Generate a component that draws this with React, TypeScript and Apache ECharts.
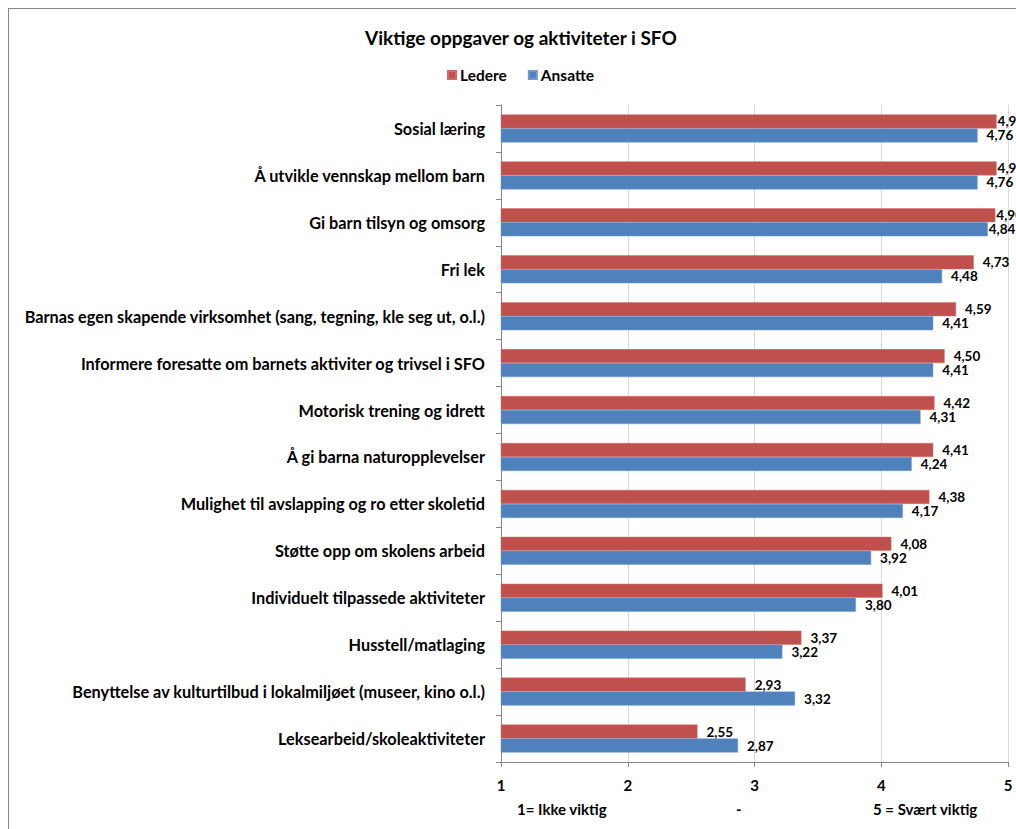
import React, { useEffect, useRef } from "react";
import * as echarts from "echarts";

const categories = [
  "Sosial læring",
  "Å utvikle vennskap mellom barn",
  "Gi barn tilsyn og omsorg",
  "Fri lek",
  "Barnas egen skapende virksomhet (sang, tegning, kle seg ut, o.l.)",
  "Informere foresatte om barnets aktiviter og trivsel i SFO",
  "Motorisk trening og idrett",
  "Å gi barna naturopplevelser",
  "Mulighet til avslapping og ro etter skoletid",
  "Støtte opp om skolens arbeid",
  "Individuelt tilpassede aktiviteter",
  "Husstell/matlaging",
  "Benyttelse av kulturtilbud i lokalmiljøet (museer, kino o.l.)",
  "Leksearbeid/skoleaktiviteter",
];

const ledere = [4.91, 4.91, 4.9, 4.73, 4.59, 4.5, 4.42, 4.41, 4.38, 4.08, 4.01, 3.37, 2.93, 2.55];
const ansatte = [4.76, 4.76, 4.84, 4.48, 4.41, 4.41, 4.31, 4.24, 4.17, 3.92, 3.8, 3.22, 3.32, 2.87];

const xTicks = [1, 2, 3, 4, 5];
const scaleNotes = ["1= Ikke viktig", "-", "5 = Svært viktig"];

const FONT = "Lato, 'Noto Sans', sans-serif";

export default function App() {
  const ref = useRef<HTMLDivElement>(null);
  useEffect(() => {
    if (!ref.current) return;
    const chart = echarts.init(ref.current, undefined, { renderer: "svg" });
    const fmt = (p: any) => Number(p.value).toFixed(2).replace(".", ",");
    const labelStyle = {
      show: true,
      position: "right",
      distance: 9,
      formatter: fmt,
      fontFamily: FONT,
      fontWeight: "bold",
      fontSize: 13.5,
      color: "#000",
    };
    // Excel pushes labels that would overflow the chart area back inwards
    const withClamp = (vals: number[]) =>
      vals.map((v) => (v > 4.8 ? { value: v, label: { distance: 1 } } : v));
    const noteStyle = { fontFamily: FONT, fontWeight: "bold", fontSize: 15, fill: "#000" };
    chart.setOption({
      animation: false,
      backgroundColor: "#fff",
      textStyle: { fontFamily: FONT },
      title: {
        text: "Viktige oppgaver og aktiviteter i SFO",
        left: 356,
        top: 19,
        padding: 0,
        textStyle: { fontFamily: FONT, fontWeight: "bold", fontSize: 19, color: "#000" },
      },
      legend: {
        left: 438,
        top: 58,
        padding: 0,
        icon: "rect",
        itemWidth: 8,
        itemHeight: 8,
        itemGap: 21,
        textStyle: { fontFamily: FONT, fontWeight: "bold", fontSize: 15.5, color: "#000", padding: [0, 0, 0, -1] },
        data: ["Ledere", "Ansatte"],
      },
      grid: { left: 492, top: 96, width: 507, height: 657, containLabel: false },
      xAxis: {
        type: "value",
        min: xTicks[0],
        max: xTicks[xTicks.length - 1],
        interval: 1,
        axisLine: { show: true, lineStyle: { color: "#868686" } },
        axisTick: { show: true, length: 5, lineStyle: { color: "#868686" } },
        axisLabel: {
          margin: 15,
          fontFamily: FONT,
          fontWeight: "bold",
          fontSize: 15,
          color: "#000",
        },
        splitLine: { show: true, lineStyle: { color: "#d9d9d9" } },
      },
      yAxis: {
        type: "category",
        inverse: true,
        data: categories,
        axisLine: { show: true, lineStyle: { color: "#868686" } },
        axisTick: { show: true, length: 5, lineStyle: { color: "#868686" } },
        axisLabel: {
          margin: 16,
          fontFamily: FONT,
          fontWeight: "bold",
          fontSize: 16.3,
          color: "#000",
        },
      },
      series: [
        {
          name: "Ledere",
          type: "bar",
          data: withClamp(ledere),
          barWidth: 14,
          barGap: "0%",
          itemStyle: { color: "#C0504D", borderColor: "#d46a67", borderWidth: 0.5 },
          label: labelStyle,
        },
        {
          name: "Ansatte",
          type: "bar",
          data: withClamp(ansatte),
          barWidth: 14,
          barGap: "0%",
          itemStyle: { color: "#4F81BD", borderColor: "#6f9ad0", borderWidth: 0.5 },
          label: labelStyle,
        },
      ],
      graphic: [
        { type: "text", left: 508, top: 792, style: { text: scaleNotes[0], ...noteStyle } },
        { type: "text", left: 727, top: 792, style: { text: scaleNotes[1], ...noteStyle } },
        { type: "text", left: 864, top: 792, style: { text: scaleNotes[2], ...noteStyle } },
      ],
    });
    return () => chart.dispose();
  }, []);
  return (
    <div
      style={{
        position: "fixed",
        left: 8,
        top: 8,
        right: 0,
        bottom: 0,
        overflow: "hidden",
        background: "#fff",
      }}
    >
      <div
        ref={ref}
        style={{ width: 1080, height: 860, border: "1px solid #868686", background: "#fff" }}
      />
    </div>
  );
}
